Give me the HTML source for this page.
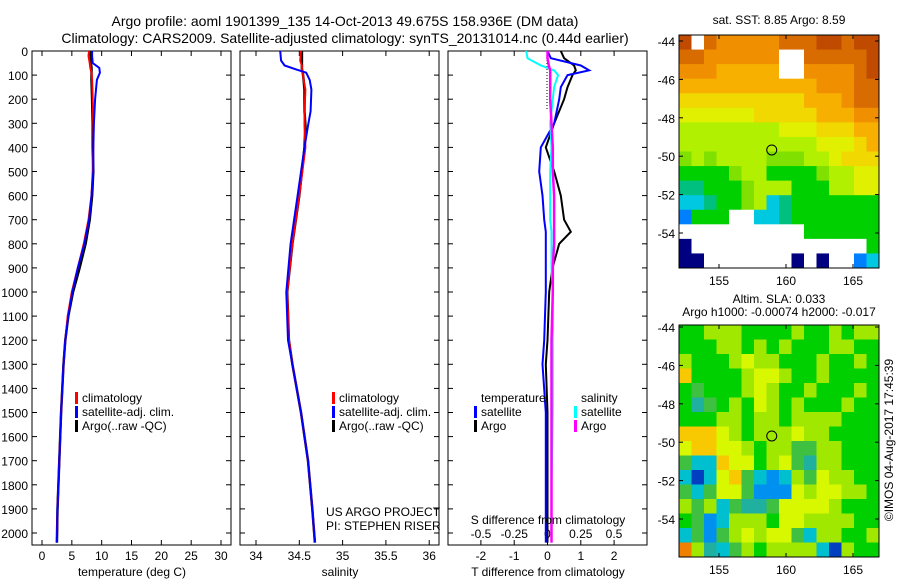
<!DOCTYPE html>
<html><head><meta charset="utf-8"><style>
body{margin:0;background:#fff;}
svg{display:block;font-family:"Liberation Sans",sans-serif;}
</style></head><body>
<svg id="fig" width="900" height="580" viewBox="0 0 900 580">
<text x="345" y="26" font-size="14" text-anchor="middle">Argo profile: aoml 1901399_135 14-Oct-2013 49.675S 158.936E (DM data)</text>
<text x="345" y="43" font-size="14" text-anchor="middle">Climatology: CARS2009. Satellite-adjusted climatology: synTS_20131014.nc (0.44d earlier)</text>
</svg>
<script>
// ---- data ----
const depthTicks=[0,100,200,300,400,500,600,700,800,900,1000,1100,1200,1300,1400,1500,1600,1700,1800,1900,2000];
const tempTicks=[0,5,10,15,20,25,30];
const salTicks=[34,34.5,35,35.5,36];
const salTickLabels=["34","34.5","35","35.5","36"];
const tdTicks=[-2,-1,0,1,2];
const sdTicks=[-0.5,-0.25,0,0.25,0.5];
const tempDepth=[0,20,50,70,90,120,200,300,400,500,600,700,800,900,1000,1100,1200,1300,1500,1700,1900,2040];
const tempClim=[7.9,7.8,8.0,8.1,8.3,8.4,8.5,8.6,8.6,8.5,8.3,7.8,7.0,6.0,5.0,4.3,3.9,3.6,3.2,2.9,2.6,2.5];
const tempSat=[8.4,8.4,8.5,9.6,9.7,9.2,8.9,8.7,8.6,8.6,8.3,7.9,7.1,6.0,5.1,4.4,3.9,3.6,3.2,2.9,2.6,2.5];
const tempArgo=[8.1,8.2,8.2,8.3,8.3,8.3,8.4,8.5,8.5,8.6,8.4,8.0,7.3,6.3,5.2,4.4,3.9,3.6,3.2,2.9,2.6,2.5];
const salDepth=[0,40,60,75,90,120,160,250,310,400,600,800,1000,1200,1300,1500,1700,1900,2040];
const salClim=[34.52,34.51,34.53,34.53,34.54,34.55,34.57,34.56,34.56,34.57,34.5,34.42,34.36,34.38,34.42,34.52,34.6,34.65,34.68];
const salSat=[34.28,34.29,34.33,34.45,34.58,34.62,34.64,34.63,34.6,34.56,34.48,34.4,34.35,34.37,34.42,34.52,34.6,34.65,34.68];
const salArgo=[34.53,34.53,34.53,34.53,34.54,34.55,34.56,34.56,34.57,34.56,34.5,34.42,34.36,34.38,34.42,34.52,34.6,34.65,34.68];
const dDepth=[0,30,60,80,100,150,200,300,400,500,600,700,750,800,900,1000,1200,1300,1500,1800,2040];
const dTSat=[0.0,0.1,1.0,1.25,0.6,0.4,0.35,0.2,-0.2,-0.25,-0.15,-0.1,-0.05,-0.05,-0.05,-0.05,-0.1,-0.15,-0.05,-0.05,-0.05];
const dTArgo=[0.4,0.5,0.8,0.85,0.75,0.6,0.5,0.2,-0.05,0.2,0.4,0.5,0.7,0.35,0.15,0.05,0.0,-0.05,0.0,0.0,0.0];
const dSSat=[-0.16,-0.15,-0.05,0.05,0.08,0.05,0.04,0.02,0.03,0.02,0.02,0.02,0.03,0.03,0.03,0.04,0.04,0.04,0.04,0.03,0.03];
const dSArgo=[0.0,0.0,0.01,0.02,0.02,0.02,0.02,0.03,0.04,0.04,0.05,0.05,0.05,0.05,0.04,0.04,0.03,0.03,0.03,0.03,0.03];
const mapLatTicks=[-44,-46,-48,-50,-52,-54];
const mapLonTicks=[155,160,165];
const sstGrid=["1023333322211211","2233333300222221","3334444400333321","4444444444433322","5555555555444322","6666665555544433","7777777766655544","7777777777766654","8787777888776555","9999877999987766","aa99987779997766","cca9987ca9999999","e99900cca9999999","0000000000999999","b000000000000009","bb0000000b0b00ec"];
const slaGrid=["gglllgggglgglgll","gggllglglgggllgg","lggglyllggglgglg","ogggglyylgglgggg","gmggglylgglggglg","gcmglgylglggglgg","gggllgllgllllggg","oooylglllyllgggg","yooyylgllmmllggg","mttoyyglymcllggg","tdtyomtbtlmyllgg","mtmyymbbbylyyllg","lmltmccmyyyylggg","gmbtlllgyyllllgg","tmbmlylyymtllggl","rlctmlglllltdlgg"];
const floatLon=158.936, floatLat=-49.675;
// ---- drawing ----
const svg=document.getElementById('fig');const NS='http://www.w3.org/2000/svg';
function mk(tag,attrs,parent){const e=document.createElementNS(NS,tag);for(const k in attrs)e.setAttribute(k,attrs[k]);(parent||svg).appendChild(e);return e;}
function txt(x,y,s,size,anchor,parent){const t=mk('text',{x:x,y:y,'font-size':size,'text-anchor':anchor},parent);t.textContent=s;return t;}
const yD=d=>51+d*0.2410;
function frame(x0,x1,name){const r=mk('rect',{x:x0,y:51,width:x1-x0,height:494,fill:'none',stroke:'#000','stroke-width':1});

}
function ticksY(x0,x1,labels){depthTicks.forEach(d=>{const y=yD(d);mk('line',{x1:x0,y1:y,x2:x0+5,y2:y,stroke:'#000'});mk('line',{x1:x1,y1:y,x2:x1-5,y2:y,stroke:'#000'});
if(labels){const t=txt(x0-4,y+5,String(d),12,'end');

}});}
function ticksX(vals,sx,labs,yl){vals.forEach((v,i)=>{const x=sx(v);mk('line',{x1:x,y1:545,x2:x,y2:540,stroke:'#000'});mk('line',{x1:x,y1:51,x2:x,y2:56,stroke:'#000'});
const t=txt(x,yl,labs[i],12,'middle');

});}
function line(xs,ds,sx,color,w,name){const p=xs.map((v,i)=>sx(v).toFixed(1)+','+yD(ds[i]).toFixed(1)).join(' ');
const l=mk('polyline',{points:p,fill:'none',stroke:color,'stroke-width':w});

}
// panel 1
const sT=v=>42+v*5.967;
frame(32,231,'temperature-panel');ticksY(32,231,true);
ticksX(tempTicks,sT,tempTicks.map(String),560);
line(tempArgo,tempDepth,sT,'#000',2.5,'temp-argo-line');
line(tempClim,tempDepth,sT,'#f00',2,'temp-clim-line');
line(tempSat,tempDepth,sT,'#00f',2,'temp-sat-line');
txt(132,576,'temperature (deg C)',12,'middle');
// panel 2
const sS=v=>256+(v-34)*86.6;
frame(240,439,'salinity-panel');ticksY(240,439,false);
ticksX(salTicks,sS,salTickLabels,560);
line(salArgo,salDepth,sS,'#000',2.5,'sal-argo-line');
line(salClim,salDepth,sS,'#f00',2,'sal-clim-line');
line(salSat,salDepth,sS,'#00f',2,'sal-sat-line');
txt(340,576,'salinity',12,'middle');
// panel 3
const sTD=v=>547.5+v*33.3, sSD=v=>547.5+v*133;
frame(448,647,'difference-panel');ticksY(448,647,false);
ticksX(tdTicks,sTD,tdTicks.map(String),560);
sdTicks.forEach(v=>{const t=txt(sSD(v),538,String(v),12,'middle');

});
mk('line',{x1:547,y1:51,x2:547,y2:110,stroke:'#000','stroke-dasharray':'1,2'});
line(dTArgo,dDepth,sTD,'#000',2,'tdiff-argo-line');
line(dTSat,dDepth,sTD,'#00f',2,'tdiff-sat-line');
line(dSSat,dDepth,sSD,'#0ff',2,'sdiff-sat-line');
line(dSArgo,dDepth,sSD,'#f0f',2.5,'sdiff-argo-line');
txt(548,524,'S difference from climatology',12,'middle');
txt(548,576,'T difference from climatology',12,'middle');
// legends
function leg(x,y,items,name){const g=mk('g',{});


items.forEach((it,i)=>{const yy=y+i*14;if(it[0])mk('rect',{x:x,y:yy-10,width:3,height:12,fill:it[0]},g);txt(x+7,yy,it[1],12,'start',g);});}
leg(75,402,[['#f00','climatology'],['#00f','satellite-adj. clim.'],['#000','Argo(..raw -QC)']],'temp-legend');
leg(332,402,[['#f00','climatology'],['#00f','satellite-adj. clim.'],['#000','Argo(..raw -QC)']],'sal-legend');
leg(474,402,[[null,'temperature'],['#00f','satellite'],['#000','Argo']],'tdiff-legend');
leg(574,402,[[null,'salinity'],['#0ff','satellite'],['#f0f','Argo']],'sdiff-legend');
txt(326,516,'US ARGO PROJECT',12,'start');txt(326,530,'PI: STEPHEN RISER',12,'start');
// maps
const sstCol={'0':'#fff','1':'#c04a00','2':'#d86c00','3':'#f09000','4':'#f8b000','5':'#f0d800','6':'#e0f000','7':'#b0f000','8':'#80e000','9':'#00d000','a':'#00c080','c':'#00c8e0','b':'#000080','e':'#0080ff'};
const slaCol={g:'#00d000',m:'#40c040',l:'#a0e800',y:'#d8f800',o:'#f8c800',c:'#20b0a0',t:'#00c0d0',b:'#0090f0',d:'#0040c0',r:'#f08000'};
function map(x0,y0,h,grid,cols,name,lat0y){
const g=mk('g',{});


const cw=200/grid[0].length,ch=h/grid.length;
grid.forEach((row,r)=>{[...row].forEach((c,k)=>{const cell=mk('rect',{x:x0+k*cw,y:y0+r*ch,width:cw+0.5,height:ch+0.5,fill:cols[c]},g);

});});
mk('rect',{x:x0,y:y0,width:200,height:h,fill:'none',stroke:'#000'},g);
const yL=l=>lat0y+(-44-l)*19.2, xL=l=>719+(l-155)*13.4;
mapLatTicks.forEach(l=>{mk('line',{x1:x0,y1:yL(l),x2:x0+4,y2:yL(l),stroke:'#000'},g);mk('line',{x1:x0+200,y1:yL(l),x2:x0+196,y2:yL(l),stroke:'#000'},g);txt(x0-4,yL(l)+5,String(l),12,'end',g);});
mapLonTicks.forEach(l=>{mk('line',{x1:xL(l),y1:y0+h,x2:xL(l),y2:y0+h-4,stroke:'#000'},g);mk('line',{x1:xL(l),y1:y0,x2:xL(l),y2:y0+4,stroke:'#000'},g);txt(xL(l),y0+h+17,String(l),12,'middle',g);});
const c=mk('circle',{cx:xL(floatLon),cy:yL(floatLat),r:5,fill:'none',stroke:'#000'},g);

}
map(679,35,233,sstGrid,sstCol,'sst-map',41);
map(679,325,232,slaGrid,slaCol,'sla-map',327);
txt(779,24,'sat. SST: 8.85 Argo: 8.59',12,'middle');
txt(779,303,'Altim. SLA: 0.033',12,'middle');
txt(779,316,'Argo h1000: -0.00074 h2000: -0.017',12,'middle');
const ts=txt(0,0,'©IMOS 04-Aug-2017 17:45:39',12,'middle');ts.setAttribute('transform','translate(893,440) rotate(-90)');
</script>
</body></html>
